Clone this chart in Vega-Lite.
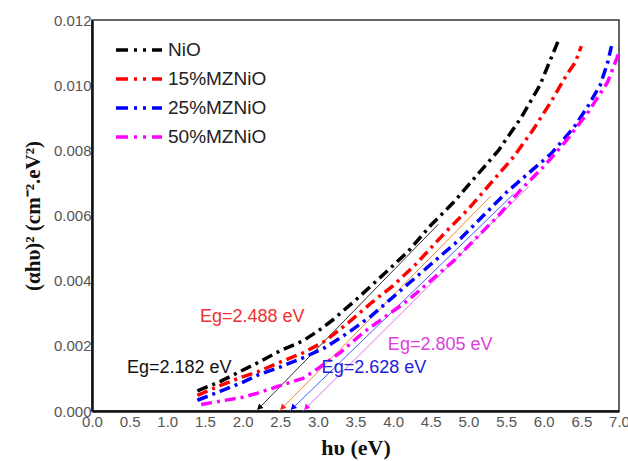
{
  "$schema": "https://vega.github.io/schema/vega-lite/v6.json",
  "width": 527,
  "height": 391,
  "autosize": {"type": "none"},
  "padding": {"left": 92, "top": 20, "right": 9, "bottom": 50},
  "background": "white",
  "config": {
    "view": {"stroke": "#333", "strokeWidth": 1.5},
    "axis": {
      "grid": false,
      "ticks": false,
      "domainColor": "#111",
      "domainWidth": 2.5,
      "labelFont": "Liberation Sans",
      "labelFontSize": 15,
      "labelColor": "#555",
      "labelOverlap": false,
      "labelFlush": false,
      "titleFont": "Liberation Serif",
      "titleFontWeight": "bold",
      "titleColor": "#111"
    },
    "legend": {
      "orient": "none",
      "legendX": 35,
      "legendY": 18,
      "symbolType": "M-2.3,0H2.3",
      "symbolSize": 400,
      "symbolStrokeWidth": 3.5,
      "symbolDash": [12, 6, 3, 6, 3, 6],
      "labelFont": "Liberation Sans",
      "labelFontSize": 19,
      "labelColor": "#222",
      "rowPadding": 7,
      "labelOffset": 17,
      "title": null
    }
  },
  "datasets": {
    "curves": [
      {"s": "NiO", "x": 1.4, "y": 0.00062}, {"s": "NiO", "x": 1.7, "y": 0.0009}, {"s": "NiO", "x": 2.0, "y": 0.00125}, {"s": "NiO", "x": 2.2, "y": 0.00148}, {"s": "NiO", "x": 2.5, "y": 0.00185}, {"s": "NiO", "x": 2.8, "y": 0.00215}, {"s": "NiO", "x": 3.0, "y": 0.00245}, {"s": "NiO", "x": 3.2, "y": 0.0028}, {"s": "NiO", "x": 3.5, "y": 0.0034}, {"s": "NiO", "x": 3.9, "y": 0.00425}, {"s": "NiO", "x": 4.2, "y": 0.0049}, {"s": "NiO", "x": 4.5, "y": 0.0057}, {"s": "NiO", "x": 4.8, "y": 0.0064}, {"s": "NiO", "x": 5.1, "y": 0.0072}, {"s": "NiO", "x": 5.4, "y": 0.008}, {"s": "NiO", "x": 5.7, "y": 0.009}, {"s": "NiO", "x": 5.95, "y": 0.01}, {"s": "NiO", "x": 6.2, "y": 0.0114},
      {"s": "15%MZNiO", "x": 1.4, "y": 0.00048}, {"s": "15%MZNiO", "x": 1.7, "y": 0.00078}, {"s": "15%MZNiO", "x": 2.0, "y": 0.00105}, {"s": "15%MZNiO", "x": 2.2, "y": 0.0012}, {"s": "15%MZNiO", "x": 2.5, "y": 0.0015}, {"s": "15%MZNiO", "x": 2.8, "y": 0.00178}, {"s": "15%MZNiO", "x": 3.1, "y": 0.00215}, {"s": "15%MZNiO", "x": 3.4, "y": 0.0027}, {"s": "15%MZNiO", "x": 3.7, "y": 0.0033}, {"s": "15%MZNiO", "x": 4.0, "y": 0.00385}, {"s": "15%MZNiO", "x": 4.3, "y": 0.0045}, {"s": "15%MZNiO", "x": 4.7, "y": 0.0055}, {"s": "15%MZNiO", "x": 5.0, "y": 0.0062}, {"s": "15%MZNiO", "x": 5.3, "y": 0.007}, {"s": "15%MZNiO", "x": 5.6, "y": 0.0078}, {"s": "15%MZNiO", "x": 5.85, "y": 0.0086}, {"s": "15%MZNiO", "x": 6.1, "y": 0.0095}, {"s": "15%MZNiO", "x": 6.3, "y": 0.0103}, {"s": "15%MZNiO", "x": 6.42, "y": 0.0107}, {"s": "15%MZNiO", "x": 6.5, "y": 0.0112},
      {"s": "25%MZNiO", "x": 1.4, "y": 0.00033}, {"s": "25%MZNiO", "x": 1.7, "y": 0.0006}, {"s": "25%MZNiO", "x": 2.0, "y": 0.00088}, {"s": "25%MZNiO", "x": 2.2, "y": 0.0011}, {"s": "25%MZNiO", "x": 2.5, "y": 0.00135}, {"s": "25%MZNiO", "x": 2.8, "y": 0.00163}, {"s": "25%MZNiO", "x": 3.1, "y": 0.00195}, {"s": "25%MZNiO", "x": 3.4, "y": 0.0024}, {"s": "25%MZNiO", "x": 3.7, "y": 0.0029}, {"s": "25%MZNiO", "x": 4.0, "y": 0.0035}, {"s": "25%MZNiO", "x": 4.3, "y": 0.0041}, {"s": "25%MZNiO", "x": 4.6, "y": 0.0047}, {"s": "25%MZNiO", "x": 4.9, "y": 0.0053}, {"s": "25%MZNiO", "x": 5.2, "y": 0.006}, {"s": "25%MZNiO", "x": 5.5, "y": 0.0067}, {"s": "25%MZNiO", "x": 5.8, "y": 0.0073}, {"s": "25%MZNiO", "x": 6.1, "y": 0.0079}, {"s": "25%MZNiO", "x": 6.4, "y": 0.0087}, {"s": "25%MZNiO", "x": 6.6, "y": 0.0094}, {"s": "25%MZNiO", "x": 6.75, "y": 0.01}, {"s": "25%MZNiO", "x": 6.85, "y": 0.0107}, {"s": "25%MZNiO", "x": 6.9, "y": 0.0112},
      {"s": "50%MZNiO", "x": 1.45, "y": 0.0002}, {"s": "50%MZNiO", "x": 1.7, "y": 0.0003}, {"s": "50%MZNiO", "x": 2.0, "y": 0.00042}, {"s": "50%MZNiO", "x": 2.2, "y": 0.00055}, {"s": "50%MZNiO", "x": 2.5, "y": 0.00078}, {"s": "50%MZNiO", "x": 2.8, "y": 0.001}, {"s": "50%MZNiO", "x": 3.0, "y": 0.0013}, {"s": "50%MZNiO", "x": 3.3, "y": 0.0018}, {"s": "50%MZNiO", "x": 3.6, "y": 0.0024}, {"s": "50%MZNiO", "x": 3.9, "y": 0.0029}, {"s": "50%MZNiO", "x": 4.2, "y": 0.0034}, {"s": "50%MZNiO", "x": 4.5, "y": 0.004}, {"s": "50%MZNiO", "x": 4.8, "y": 0.0046}, {"s": "50%MZNiO", "x": 5.1, "y": 0.0053}, {"s": "50%MZNiO", "x": 5.4, "y": 0.006}, {"s": "50%MZNiO", "x": 5.7, "y": 0.0068}, {"s": "50%MZNiO", "x": 6.0, "y": 0.0075}, {"s": "50%MZNiO", "x": 6.3, "y": 0.0083}, {"s": "50%MZNiO", "x": 6.6, "y": 0.0092}, {"s": "50%MZNiO", "x": 6.85, "y": 0.0101}, {"s": "50%MZNiO", "x": 7.0, "y": 0.011}
    ],
    "tangents": [
      {"s": "NiO", "x": 2.182, "y": 0}, {"s": "NiO", "x": 4.6, "y": 0.00573},
      {"s": "15%MZNiO", "x": 2.488, "y": 0}, {"s": "15%MZNiO", "x": 5.3, "y": 0.0066},
      {"s": "25%MZNiO", "x": 2.628, "y": 0}, {"s": "25%MZNiO", "x": 5.6, "y": 0.00666},
      {"s": "50%MZNiO", "x": 2.805, "y": 0}, {"s": "50%MZNiO", "x": 5.8, "y": 0.00689}
    ],
    "arrows": [
      {"s": "NiO", "x": 2.23, "y": 0.00012},
      {"s": "15%MZNiO", "x": 2.536, "y": 0.00012},
      {"s": "25%MZNiO", "x": 2.676, "y": 0.00012},
      {"s": "50%MZNiO", "x": 2.853, "y": 0.00012}
    ],
    "labels": [
      {"s": "NiO", "x": 0.465, "y": 0.00132, "t": "Eg=2.182 eV"},
      {"s": "15%MZNiO", "x": 1.434, "y": 0.00289, "t": "Eg=2.488 eV"},
      {"s": "25%MZNiO", "x": 3.05, "y": 0.00132, "t": "Eg=2.628 eV"},
      {"s": "50%MZNiO", "x": 3.93, "y": 0.00203, "t": "Eg=2.805 eV"}
    ]
  },
  "encoding": {
    "x": {"field": "x", "type": "quantitative", "scale": {"domain": [0, 7], "nice": false}, "axis": {"values": [0, 0.5, 1, 1.5, 2, 2.5, 3, 3.5, 4, 4.5, 5, 5.5, 6, 6.5, 7], "format": ".1f", "title": "hυ (eV)", "titleFontSize": 22, "titlePadding": 8, "labelPadding": 3, "labelOverlap": false, "labelFlush": false}},
    "y": {"field": "y", "type": "quantitative", "scale": {"domain": [0, 0.012], "nice": false}, "axis": {"values": [0, 0.002, 0.004, 0.006, 0.008, 0.01, 0.012], "format": ".3f", "title": "(αhυ)² (cm⁻².eV²)", "titleFontSize": 21, "titlePadding": 10, "labelPadding": 1, "labelOverlap": false, "labelFlush": false}}
  },
  "layer": [
    {
      "data": {"name": "tangents"},
      "mark": {"type": "line", "strokeWidth": 1},
      "encoding": {
        "color": {"field": "s", "type": "nominal", "scale": {"domain": ["NiO", "15%MZNiO", "25%MZNiO", "50%MZNiO"], "range": ["#333333", "#f08a30", "#4060ff", "#e070e0"]}, "legend": null},
        "detail": {"field": "s"}
      }
    },
    {
      "data": {"name": "curves"},
      "mark": {"type": "line", "strokeWidth": 3.5, "strokeDash": [11, 5, 3, 5]},
      "encoding": {
        "color": {"field": "s", "type": "nominal", "scale": {"domain": ["NiO", "15%MZNiO", "25%MZNiO", "50%MZNiO"], "range": ["#000000", "#ff0000", "#0000ff", "#ff00ff"]}}
      }
    },
    {
      "data": {"name": "arrows"},
      "mark": {"type": "point", "shape": "triangle", "filled": true, "size": 40, "angle": 225, "opacity": 1},
      "encoding": {
        "color": {"field": "s", "type": "nominal", "scale": {"domain": ["NiO", "15%MZNiO", "25%MZNiO", "50%MZNiO"], "range": ["#000000", "#ff2020", "#0000ff", "#ff00ff"]}, "legend": null}
      }
    },
    {
      "data": {"name": "labels"},
      "mark": {"type": "text", "align": "left", "baseline": "middle", "font": "Liberation Sans", "fontSize": 18},
      "encoding": {
        "text": {"field": "t"},
        "color": {"field": "s", "type": "nominal", "scale": {"domain": ["NiO", "15%MZNiO", "25%MZNiO", "50%MZNiO"], "range": ["#111111", "#f03030", "#2020e0", "#e040e0"]}, "legend": null}
      }
    }
  ],
  "resolve": {"scale": {"color": "independent"}, "legend": {"color": "independent"}}
}
